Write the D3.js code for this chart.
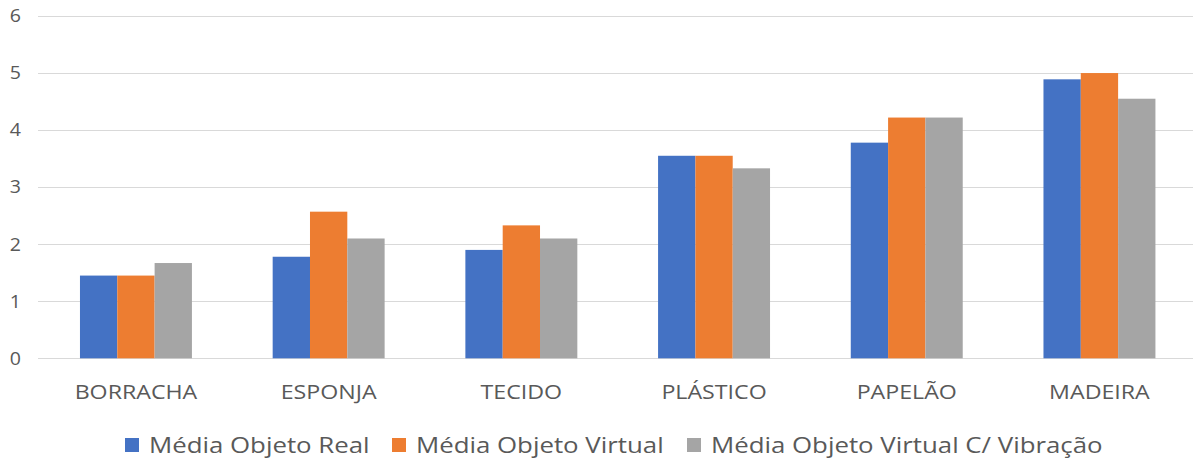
<!DOCTYPE html>
<html><head><meta charset="utf-8">
<script src="https://cdn.jsdelivr.net/npm/d3@7"></script>
<style>body{margin:0;background:#fff}svg{display:block}text{font-family:"Open Sans",sans-serif;fill:#595959}</style>
</head><body><svg id="c" width="1193" height="462"></svg>
<script>
const categories = ["BORRACHA","ESPONJA","TECIDO","PLÁSTICO","PAPELÃO","MADEIRA"];
const seriesNames = ["Média Objeto Real","Média Objeto Virtual","Média Objeto Virtual C/ Vibração"];
const real = [1.45, 1.78, 1.9, 3.55, 3.78, 4.89];
const virtual = [1.45, 2.57, 2.33, 3.55, 4.22, 5.0];
const vibracao = [1.67, 2.1, 2.1, 3.33, 4.22, 4.55];
const yTicks = [0,1,2,3,4,5,6];
const colors = ["#4472C4","#ED7D31","#A5A5A5"];
const seriesValues = [real, virtual, vibracao];

const svg = d3.select("#c");
const y = d3.scaleLinear().domain([0,6]).range([358.3,16]);
const x0 = d3.scaleBand().domain(categories).range([39.6,1195.8]).paddingInner(0).paddingOuter(0);
const bw = x0.bandwidth();
const gap = bw*0.419;
const x1 = d3.scaleBand().domain(d3.range(3)).range([gap/2, bw-gap/2]).padding(0);

svg.append("g").selectAll("line").data(yTicks).join("line")
  .attr("x1",38).attr("x2",1193)
  .attr("y1",d=>Math.round(y(d))+0.5).attr("y2",d=>Math.round(y(d))+0.5)
  .attr("stroke","#d9d9d9").attr("stroke-width",1);

svg.append("g").selectAll("text").data(yTicks).join("text")
  .attr("transform",d=>`translate(21,${y(d)}) scale(1.12,1)`).attr("dy","0.36em")
  .attr("text-anchor","end").attr("font-size",17.5).text(d=>d);

const groups = svg.append("g").selectAll("g").data(categories).join("g")
  .attr("transform",d=>`translate(${x0(d)},0)`);
groups.selectAll("rect").data((d,i)=>seriesValues.map((s,k)=>({k,v:s[i]}))).join("rect")
  .attr("x",d=>x1(d.k)).attr("width",x1.bandwidth())
  .attr("y",d=>y(d.v)).attr("height",d=>y(0)-y(d.v))
  .attr("fill",d=>colors[d.k]);

svg.append("g").selectAll("text").data(categories).join("text")
  .attr("transform",d=>`translate(${x0(d)+bw/2},392) scale(1.16,1)`).attr("dy","0.36em")
  .attr("text-anchor","middle").attr("font-size",20).text(d=>d);

const legX = [125, 392, 687];
const leg = svg.append("g").selectAll("g").data(seriesNames).join("g")
  .attr("transform",(d,i)=>`translate(${legX[i]},445)`);
leg.append("rect").attr("x",0).attr("y",-7).attr("width",14).attr("height",14).attr("fill",(d,i)=>colors[i]);
leg.append("text").attr("transform","translate(24,0) scale(1.23,1)").attr("dy","0.36em").attr("font-size",21).text(d=>d);
</script></body></html>
